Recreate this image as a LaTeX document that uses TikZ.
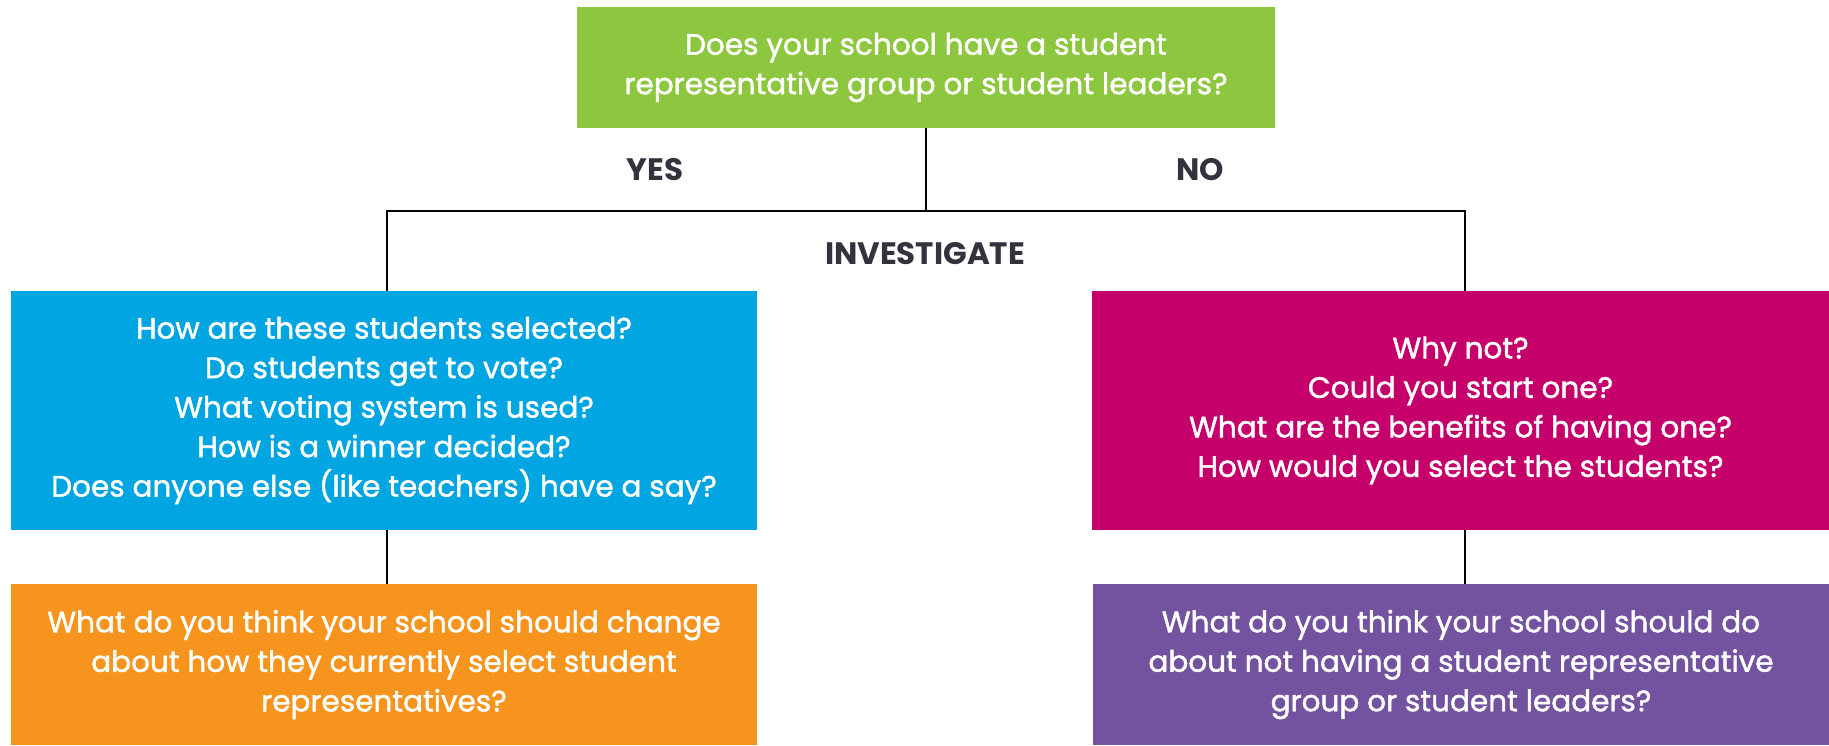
\documentclass[tikz,border=0pt]{standalone}
\usepackage{fontspec}
\setmainfont{Poppins}
\newfontfamily\qfont[FakeBold=1.5]{Poppins}
\definecolor{cgreen}{HTML}{8DC63F}
\definecolor{cblue}{HTML}{00A5E1}
\definecolor{cmag}{HTML}{C5006A}
\definecolor{corange}{HTML}{F7941D}
\definecolor{cpurple}{HTML}{7352A0}
\definecolor{ctext}{HTML}{333340}
\begin{document}
\begin{tikzpicture}[x=1pt,y=-1pt,
  qbox/.style={inner sep=0pt, align=center, text=white, font=\qfont\fontsize{29.5}{39.5}\selectfont},
  lbl/.style={inner sep=0pt, text=ctext, font=\fontsize{31}{34}\selectfont\bfseries},
  conn/.style={draw=black, line width=2.5pt}]
\useasboundingbox (0,0) rectangle (1829,745);
\fill[cgreen] (577,7) rectangle (1275,128);
\node[qbox] (green) at (926,67.5) {Does your school have a student\\representative group or student leaders?};
\fill[cblue] (11,291) rectangle (757,530);
\node[qbox] (blue) at (384,410.5) {How are these students selected?\\Do students get to vote?\\What voting system is used?\\How is a winner decided?\\Does anyone else (like teachers) have a say?};
\fill[cmag] (1092,291) rectangle (1829,530);
\node[qbox] (mag) at (1460.5,410.5) {Why not?\\Could you start one?\\What are the benefits of having one?\\How would you select the students?};
\fill[corange] (11,584) rectangle (757,745);
\node[qbox] (orange) at (384,664.5) {What do you think your school should change\\about how they currently select student\\representatives?};
\fill[cpurple] (1093,584) rectangle (1829,745);
\node[qbox] (purple) at (1461,664.5) {What do you think your school should do\\about not having a student representative\\group or student leaders?};
\node[lbl] (yes) at (655,170) {YES};
\node[lbl] (no) at (1200,170) {NO};
\node[lbl] (inv) at (925,254) {INVESTIGATE};
\coordinate (gb) at (926,128);
\coordinate (jm) at (926,211);
\coordinate (jl) at (387,211);
\coordinate (jr) at (1465,211);
\coordinate (bt) at (387,291);
\coordinate (bb) at (387,530);
\coordinate (ot) at (387,584);
\coordinate (mt) at (1465,291);
\coordinate (mb) at (1465,530);
\coordinate (pt) at (1465,584);
\draw[conn] (gb) -- (jm);
\draw[conn] (bt) -- (jl) -- (jr) -- (mt);
\draw[conn] (bb) -- (ot);
\draw[conn] (mb) -- (pt);
\end{tikzpicture}
\end{document}
